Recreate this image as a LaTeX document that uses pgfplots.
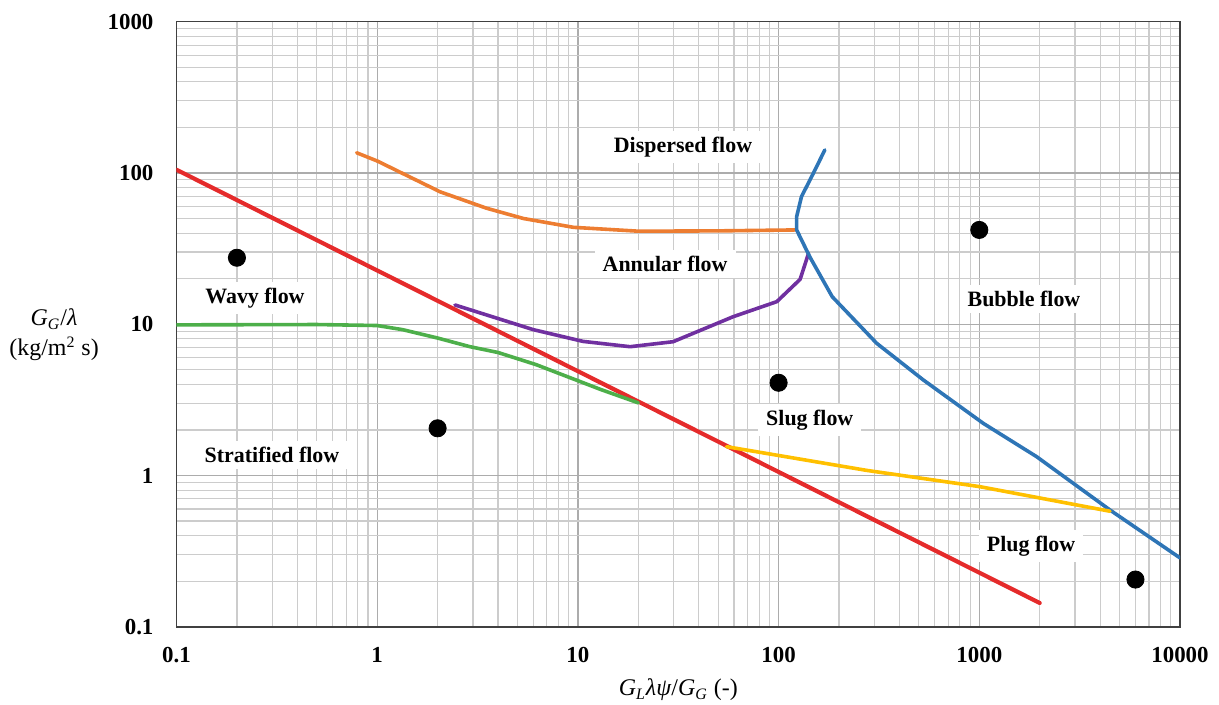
\documentclass[border=0pt]{standalone}
\usepackage{pgfplots}
\pgfplotsset{compat=1.18}
\usetikzlibrary{calc}
\usepackage{fontspec}
\setmainfont{Liberation Serif}
\definecolor{cred}{HTML}{E52B2B}
\definecolor{corange}{HTML}{ED7D31}
\definecolor{cgreen}{HTML}{4DAF4A}
\definecolor{cpurple}{HTML}{7030A0}
\definecolor{cblue}{HTML}{2E75B6}
\definecolor{cyellow}{HTML}{FFC000}
\begin{document}
\begin{tikzpicture}
\begin{axis}[name=ax,
  xmode=log, ymode=log, scale only axis,
  width=501.75bp, height=302.5bp,
  xmin=0.1, xmax=10000, ymin=0.1, ymax=1000,
  xtick={0.1,1,10,100,1000,10000},
  xticklabels={0.1,1,10,100,1000,10000},
  ytick={0.1,1,10,100,1000},
  yticklabels={0.1,1,10,100,1000},
  grid=both,
  major grid style={draw=gray!65, line width=0.6bp},
  minor grid style={draw=gray!40, line width=0.6bp},
  major tick length=0pt, minor tick length=0pt,
  axis line style={draw=black!75, line width=0.8bp},
  /pgf/number format/assume math mode=true,
  ticklabel style={font=\fontsize{11.5}{13}\selectfont\bfseries},
  xticklabel style={yshift=-7bp},
  yticklabel style={xshift=-8bp},
  xlabel={\textit{G}\textsubscript{\textit{L}}\textit{λψ}/\textit{G}\textsubscript{\textit{G}} (-)},
  xlabel style={at={(rel axis cs:0.5,0)}, anchor=center, yshift=-31.7bp, font=\fontsize{12}{14}\selectfont},
  ylabel={\textit{G}\textsubscript{\textit{G}}/\textit{λ}\\(kg/m\textsuperscript{2} s)},
  ylabel style={at={(rel axis cs:-0.122,0.482)}, rotate=-90, anchor=center, align=center, font=\fontsize{12}{15}\selectfont},
  label style={text=black},
  every axis plot/.append style={line join=round, line cap=round},
]
% red
\addplot[cred, line width=2.1bp] coordinates {(0.1,105) (2000,0.1435)};
% green
\addplot[cgreen, line width=1.8bp] coordinates {(0.1,9.9) (0.5,9.95) (1,9.8) (1.34,9.2) (2,8.1) (2.9,7.1) (4,6.5) (6.2,5.4) (13,3.7) (20,3.02)};
% purple
\addplot[cpurple, line width=1.8bp] coordinates {(2.44,13.4) (6,9.2) (10.6,7.7) (18.2,7.1) (29.8,7.66) (59.3,11.2) (98,14.1) (128,19.8) (141,29.4)};
% orange
\addplot[corange, line width=1.8bp] coordinates {(0.79,136) (1,120) (2.06,75) (3.5,58.5) (5.35,50) (9.5,43.7) (20,41.2) (50,41.4) (122,42)};
% blue
\addplot[cblue, line width=1.8bp] coordinates {(170,142) (149,99.5) (130,69.7) (123,51.4) (123,42) (143,27.9) (185,15.2) (308,7.48) (526,4.28) (1047,2.21) (1932,1.33) (4478,0.591) (10000,0.285)};
% yellow
\addplot[cyellow, line width=1.8bp] coordinates {(55,1.55) (275,1.08) (1007,0.843) (4478,0.58)};
% dots
\addplot[only marks, mark=*, mark size=4.3bp, black] coordinates {(0.2,27.5) (2,2.05) (100,4.1) (1000,42) (6000,0.205)};
% labels
\tikzset{lab/.style={fill=white, inner xsep=4bp, inner ysep=3bp, font=\fontsize{11}{13}\selectfont\bfseries}}
\node[lab] at (axis cs:33.4,148) {Dispersed flow};
\node[lab] at (axis cs:27.2,25) {Annular flow};
\node[lab] at (axis cs:0.246,14.9) {Wavy flow};
\node[lab] at (axis cs:1670,14.7) {Bubble flow};
\node[lab] at (axis cs:143,2.33) {Slug flow};
\node[lab] at (axis cs:0.299,1.36) {Stratified flow};
\node[lab] at (axis cs:1811,0.341) {Plug flow};
\end{axis}
\pgfresetboundingbox
\path ($(ax.south west)+(-88.25bp,-39.15bp)$) rectangle ($(ax.north east)+(19.5bp,10.85bp)$);
\end{tikzpicture}
\end{document}
